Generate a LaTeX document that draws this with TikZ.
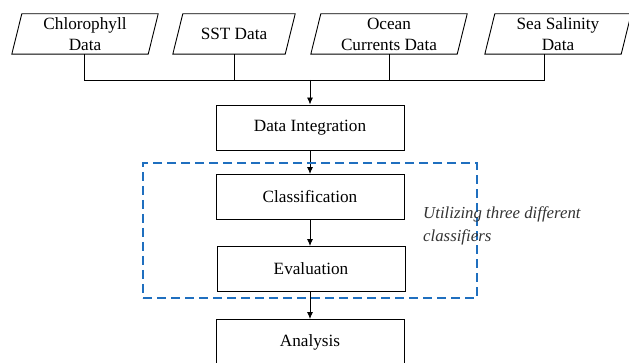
\documentclass[tikz,border=0pt]{standalone}
\usepackage{fontspec}
\setmainfont{Liberation Serif}
\usetikzlibrary{arrows.meta}
\definecolor{dashblue}{HTML}{1F6FBF}
\begin{document}
\begin{tikzpicture}[x=1pt,y=-1pt,
  txt/.style={font=\fontsize{17.2}{21}\selectfont, align=center, inner sep=0pt},
  databox/.style={txt, minimum width=#1, minimum height=40pt},
  procbox/.style={txt, draw, line width=0.9pt, minimum width=188pt, minimum height=45pt},
  link/.style={line width=0.9pt},
  flow/.style={link, -{Latex[length=7pt,width=6pt]}}]
\useasboundingbox (0,0) rectangle (629,363);
\clip (0,0) rectangle (629,363);

% input data sources (parallelogram outlines drawn from node corners)
\node[databox=136pt] (chl) at (85,34) {Chlorophyll\\Data};
\node[databox=112pt] (sst) at (234,34) {SST Data};
\node[databox=146pt] (cur) at (389,34) {Ocean\\Currents Data};
\node[databox=136pt] (sal) at (558,34) {Sea Salinity\\Data};
\foreach \n in {chl,sst,cur,sal}{
  \draw[link] ([xshift=5pt]\n.north west) -- ([xshift=5pt]\n.north east)
    -- ([xshift=-5pt]\n.south east) -- ([xshift=-5pt]\n.south west) -- cycle;
}

% processing steps
\node[procbox] (int) at (310,127.5) {Data Integration};
\node[procbox] (cls) at (310,197) {Classification};
\node[procbox] (eva) at (311,269) {Evaluation};
\node[procbox] (ana) at (310,342) {Analysis};

% merge of the four sources
\coordinate (bus) at (310,80);
\draw[link] ([xshift=-1pt]chl.south) |- (bus);
\draw[link] ([xshift=-14pt]sal.south) |- (bus);
\draw[link] (sst.south) -- (sst.south |- bus);
\draw[link] (cur.south) -- (cur.south |- bus);
\draw[flow] (bus) -- (int.north);

\draw[flow] (int.south) -- (cls.north);
\draw[flow] (cls.south) -- (eva.north -| cls.south);
\draw[flow] (eva.south -| ana.north) -- (ana.north);

% group of classifier steps
\node[draw=dashblue, line width=2.4pt, dash pattern=on 9pt off 5pt,
  minimum width=334pt, minimum height=135pt, inner sep=0pt] (grp) at (310,230.5) {};
\node[font=\fontsize{16.8}{23}\selectfont\itshape, align=left, anchor=west,
  text=black!80, inner sep=0pt] (note) at (423,225.5) {Utilizing three different\\classifiers};
\end{tikzpicture}
\end{document}
